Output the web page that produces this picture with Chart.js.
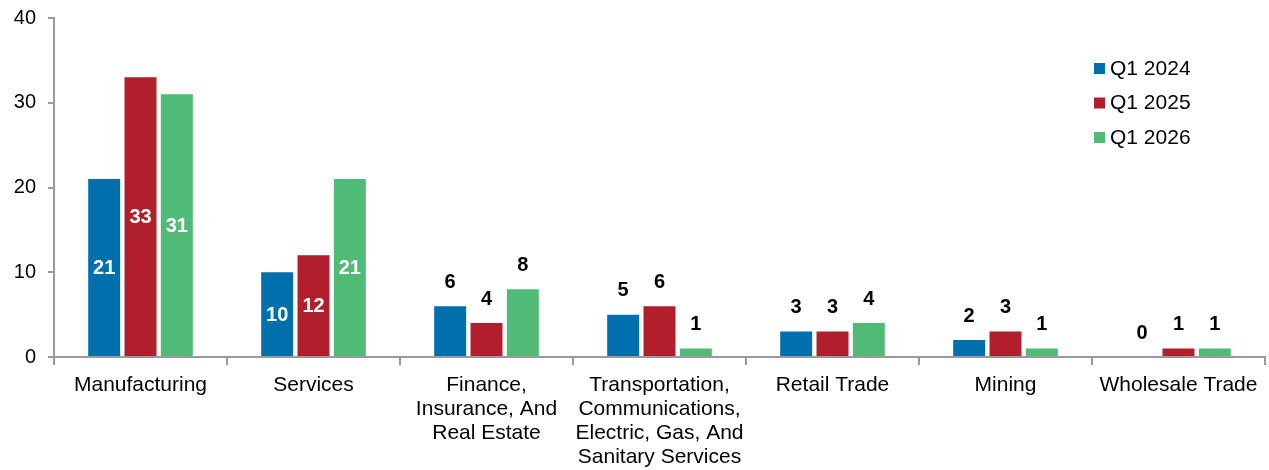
<!DOCTYPE html>
<html>
<head>
<meta charset="utf-8">
<script src="https://cdn.jsdelivr.net/npm/chart.js@4/dist/chart.umd.min.js"></script>
<style>
  html, body { margin: 0; padding: 0; background: #fff; }
  #wrap { width: 1269px; height: 470px; position: relative; }
</style>
</head>
<body>
<div id="wrap"><canvas id="chart"></canvas></div>
<script>
// secteurs et valeurs par trimestre
const categories = [
  'Manufacturing',
  'Services',
  ['Finance,', 'Insurance, And', 'Real Estate'],
  ['Transportation,', 'Communications,', 'Electric, Gas, And', 'Sanitary Services'],
  'Retail Trade',
  'Mining',
  'Wholesale Trade'
];
const q1_2024 = [21, 10, 6, 5, 3, 2, 0];
const q1_2025 = [33, 12, 4, 6, 3, 3, 1];
const q1_2026 = [31, 21, 8, 1, 4, 1, 1];
const seriesNames = ['Q1 2024', 'Q1 2025', 'Q1 2026'];
const seriesColors = ['#006fad', '#b01f2b', '#4fbb77'];
const yTicks = [0, 10, 20, 30, 40];

const FONT = '"Liberation Sans", Arial, sans-serif';
const AXIS = '#9a9a9a';

// étiquettes de valeur : blanches dans la barre si grande, noires au-dessus sinon
const valueLabels = {
  id: 'valueLabels',
  afterDatasetsDraw(chart) {
    const ctx = chart.ctx;
    ctx.save();
    ctx.font = 'bold 20px ' + FONT;
    ctx.textAlign = 'center';
    ctx.textBaseline = 'middle';
    chart.data.datasets.forEach((ds, i) => {
      chart.getDatasetMeta(i).data.forEach((bar, j) => {
        const v = ds.data[j];
        if (v >= 10) {
          ctx.fillStyle = '#fff';
          ctx.fillText(String(v), bar.x, (bar.y + bar.base) / 2 + 1);
        } else {
          ctx.fillStyle = '#000';
          ctx.fillText(String(v), bar.x, bar.y - 24);
        }
      });
    });
    ctx.restore();
  }
};

// légende dans le coin haut droit
const cornerLegend = {
  id: 'cornerLegend',
  afterDraw(chart) {
    const ctx = chart.ctx;
    ctx.save();
    ctx.font = '21px ' + FONT;
    ctx.textBaseline = 'middle';
    ctx.textAlign = 'left';
    seriesNames.forEach((name, i) => {
      const y = 68 + i * 34.5;
      ctx.fillStyle = seriesColors[i];
      ctx.fillRect(1094, y - 5, 11, 11);
      ctx.fillStyle = '#000';
      ctx.fillText(name, 1110, y + 1);
    });
    ctx.restore();
  }
};

const ctx = document.getElementById('chart').getContext('2d');
new Chart(ctx, {
  type: 'bar',
  data: {
    labels: categories,
    datasets: [q1_2024, q1_2025, q1_2026].map((d, i) => ({
      label: seriesNames[i],
      data: d,
      backgroundColor: seriesColors[i],
      categoryPercentage: 0.63,
      barPercentage: 0.88
    }))
  },
  options: {
    responsive: true,
    maintainAspectRatio: false,
    animation: false,
    layout: { padding: { top: 18, right: 4, left: 0, bottom: 0 } },
    plugins: { legend: { display: false }, tooltip: { enabled: false } },
    scales: {
      x: {
        grid: { drawOnChartArea: false, drawTicks: true, tickLength: 8, color: AXIS, lineWidth: 2, offset: true },
        border: { color: AXIS, width: 2 },
        ticks: { color: '#000', font: { family: FONT, size: 21, lineHeight: 1.15 }, padding: 8, maxRotation: 0, autoSkip: false },
        afterFit: s => { s.height = 113; }
      },
      y: {
        min: 0, max: 40,
        afterBuildTicks: s => { s.ticks = yTicks.map(v => ({ value: v })); },
        grid: { drawOnChartArea: false, drawTicks: true, tickLength: 6, color: AXIS, lineWidth: 2 },
        border: { color: AXIS, width: 2 },
        ticks: { color: '#000', font: { family: FONT, size: 20 }, padding: 12 },
        afterFit: s => { s.width = 54; s.paddingTop = 0; s.paddingBottom = 0; }
      }
    }
  },
  plugins: [valueLabels, cornerLegend]
});
</script>
</body>
</html>
